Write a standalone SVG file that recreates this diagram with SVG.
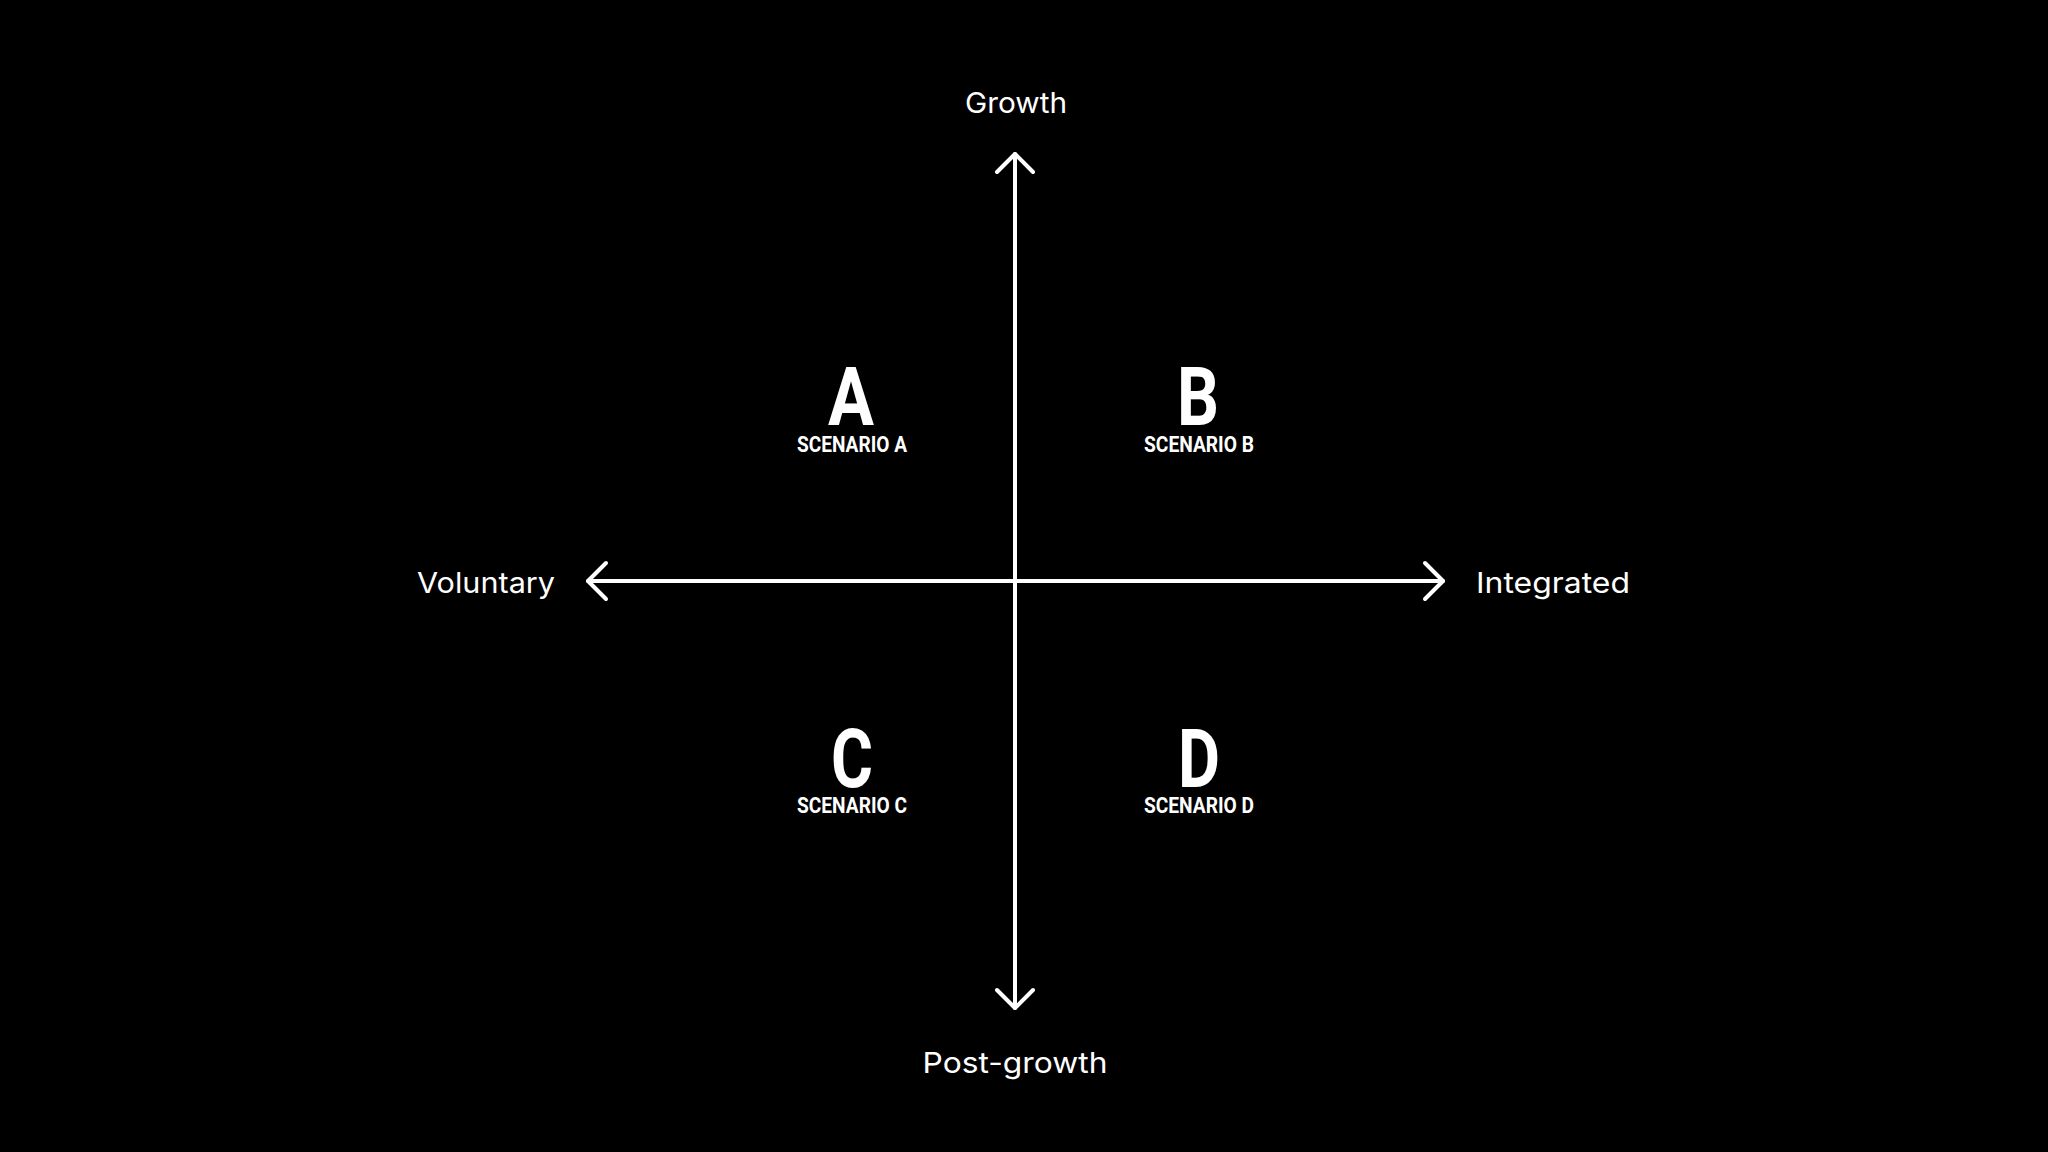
<svg xmlns="http://www.w3.org/2000/svg" width="2048" height="1152" viewBox="0 0 2048 1152">
<style>
.ax{font-family:Inter,"Noto Sans",sans-serif;font-size:29px;fill:#fff;}
.big{font-family:Roboto,"Liberation Sans",sans-serif;font-weight:700;font-size:82px;fill:#fff;text-anchor:middle;}
.sub{font-family:Roboto,"Liberation Sans",sans-serif;font-weight:700;font-size:21.5px;fill:#fff;text-anchor:middle;}
.ln{stroke:#fff;stroke-width:4;fill:none;stroke-linecap:round;stroke-linejoin:round;}
</style>
<rect width="2048" height="1152" fill="#000"/>
<g id="connectors">
<line class="ln" x1="1015" y1="154" x2="1015" y2="1008"/>
<line class="ln" x1="588" y1="581" x2="1443" y2="581"/>
<polyline class="ln" points="997,172 1015,154 1033,172"/>
<polyline class="ln" points="997,990 1015,1008 1033,990"/>
<polyline class="ln" points="606,563 588,581 606,599"/>
<polyline class="ln" points="1425,563 1443,581 1425,599"/>
</g>
<g id="label-growth"><text class="ax" x="1016" y="113" text-anchor="middle" textLength="102" lengthAdjust="spacingAndGlyphs">Growth</text></g>
<g id="label-postgrowth"><text class="ax" x="1015" y="1073" text-anchor="middle" textLength="185" lengthAdjust="spacingAndGlyphs">Post-growth</text></g>
<g id="label-voluntary"><text class="ax" x="417" y="593" textLength="138" lengthAdjust="spacingAndGlyphs">Voluntary</text></g>
<g id="label-integrated"><text class="ax" x="1476" y="593" textLength="154" lengthAdjust="spacingAndGlyphs">Integrated</text></g>
<g id="scenario-a">
<text class="big" x="851" y="425" textLength="46" lengthAdjust="spacingAndGlyphs">A</text>
<text class="sub" x="852" y="452" textLength="110" lengthAdjust="spacingAndGlyphs">SCENARIO A</text>
</g>
<g id="scenario-b">
<text class="big" x="1198" y="425" textLength="42" lengthAdjust="spacingAndGlyphs">B</text>
<text class="sub" x="1199" y="452" textLength="110" lengthAdjust="spacingAndGlyphs">SCENARIO B</text>
</g>
<g id="scenario-c">
<text class="big" x="852" y="787" textLength="42" lengthAdjust="spacingAndGlyphs">C</text>
<text class="sub" x="852" y="813" textLength="110" lengthAdjust="spacingAndGlyphs">SCENARIO C</text>
</g>
<g id="scenario-d">
<text class="big" x="1199" y="787" textLength="42" lengthAdjust="spacingAndGlyphs">D</text>
<text class="sub" x="1199" y="813" textLength="110" lengthAdjust="spacingAndGlyphs">SCENARIO D</text>
</g>
</svg>
